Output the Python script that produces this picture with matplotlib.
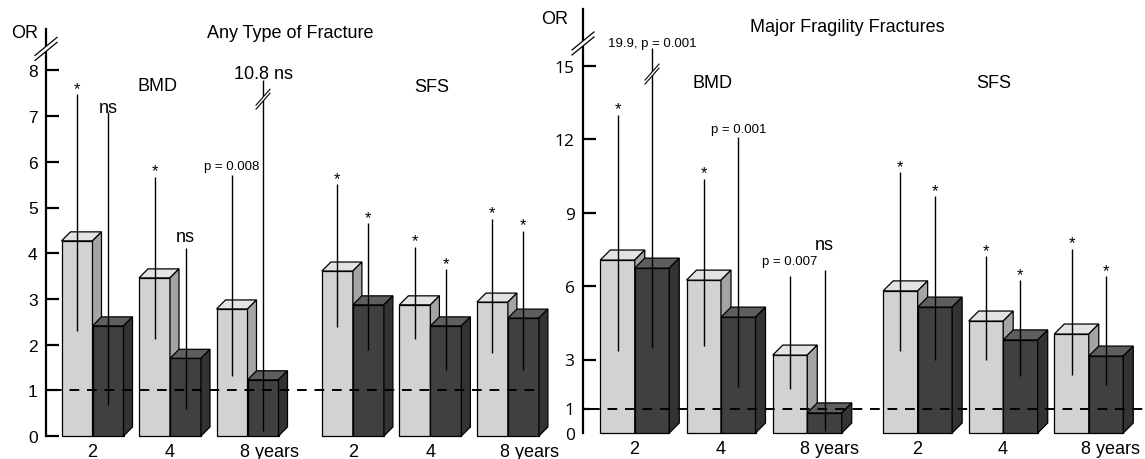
import matplotlib.pyplot as plt
from matplotlib.patches import Polygon

plt.rcParams['font.family'] = ['Liberation Sans', 'DejaVu Sans']

# ---- data (odds ratios) ----
years = ['2', '4', '8 years']

# Any type of fracture
any_bmd_light = [4.27, 3.46, 2.78]
any_bmd_dark = [2.41, 1.70, 1.23]
any_bmd_light_lo = [2.30, 2.12, 1.31]
any_bmd_light_hi = [7.48, 5.67, 5.72]
any_bmd_dark_lo = [0.68, 0.59, 0.11]
any_bmd_dark_hi = [7.09, 4.11, 10.8]
any_bmd_light_sig = ['*', '*', 'p = 0.008']
any_bmd_dark_sig = ['ns', 'ns', '10.8 ns']

any_sfs_light = [3.61, 2.87, 2.93]
any_sfs_dark = [2.87, 2.41, 2.58]
any_sfs_light_lo = [2.38, 2.12, 1.82]
any_sfs_light_hi = [5.51, 4.14, 4.75]
any_sfs_dark_lo = [1.88, 1.44, 1.44]
any_sfs_dark_hi = [4.66, 3.65, 4.49]
any_sfs_light_sig = ['*', '*', '*']
any_sfs_dark_sig = ['*', '*', '*']

# Major fragility fractures
maj_bmd_light = [7.06, 6.24, 3.18]
maj_bmd_dark = [6.73, 4.73, 0.82]
maj_bmd_light_lo = [3.35, 3.55, 1.80]
maj_bmd_light_hi = [13.0, 10.37, 6.40]
maj_bmd_dark_lo = [3.47, 1.88, 0.08]
maj_bmd_dark_hi = [19.9, 12.1, 6.65]
maj_bmd_light_sig = ['*', '*', 'p = 0.007']
maj_bmd_dark_sig = ['19.9, p = 0.001', 'p = 0.001', 'ns']

maj_sfs_light = [5.80, 4.57, 4.04]
maj_sfs_dark = [5.14, 3.80, 3.14]
maj_sfs_light_lo = [3.35, 3.00, 2.37]
maj_sfs_light_hi = [10.65, 7.22, 7.51]
maj_sfs_dark_lo = [2.98, 2.33, 1.96]
maj_sfs_dark_hi = [9.67, 6.24, 6.40]
maj_sfs_light_sig = ['*', '*', '*']
maj_sfs_dark_sig = ['*', '*', '*']

# ---- style ----
LIGHT = ('#d2d2d2', '#e3e3e3', '#a4a4a4')   # front, top, side
DARK = ('#404040', '#5e5e5e', '#333333')
W, H = 1145, 460

fig = plt.figure(figsize=(W / 100, H / 100), dpi=100)


def make_axes(left, zero, top, xmax, ux, uy):
    ax = fig.add_axes([left / W, (H - zero) / H, xmax * ux / W, (zero - top) / H])
    ax.set_xlim(0, xmax)
    ax.set_ylim(0, (zero - top) / uy)
    for s in ['top', 'right', 'bottom']:
        ax.spines[s].set_visible(False)
    ax.spines['left'].set_linewidth(1.6)
    ax.set_xticks([])
    ax.tick_params(axis='y', direction='in', length=9, width=1.6, labelsize=12.5, pad=6)
    ax.patch.set_alpha(0)
    return ax


def bar3d(ax, x, h, cols, dx, dy, z):
    ax.bar(x, h, width=1, align='edge', color=cols[0], edgecolor='black',
           linewidth=0.9, zorder=z, clip_on=False)
    ax.add_patch(Polygon([(x, h), (x + dx, h + dy), (x + 1 + dx, h + dy), (x + 1, h)],
                         closed=True, fc=cols[1], ec='black', lw=0.9, zorder=z, clip_on=False))
    ax.add_patch(Polygon([(x + 1, 0), (x + 1 + dx, dy), (x + 1 + dx, h + dy), (x + 1, h)],
                         closed=True, fc=cols[2], ec='black', lw=0.9, zorder=z, clip_on=False))


def break_marks(ax, x, y, ux, uy, wpx, hpx, gap, lw, clip=True):
    a, b, g = wpx / 2 / ux, hpx / 2 / uy, gap / 2 / uy
    ax.add_patch(Polygon([(x - a, y - b - g), (x + a, y + b - g), (x + a, y + b + g), (x - a, y - b + g)],
                         closed=True, fc='white', ec='none', zorder=30, clip_on=clip))
    for s in (-g, g):
        ax.plot([x - a, x + a], [y - b + s, y + b + s], color='black', lw=lw,
                zorder=31, clip_on=clip)


def draw_panel(ax, groups, ux, uy, depth, cap, brk, lifts):
    dx, dy = depth / ux, depth / uy
    z = 2
    k = 0
    for starts, light, dark, llo, lhi, dlo, dhi, lsig, dsig in groups:
        for i in range(len(years)):
            x0 = starts[i]
            for x, h, cols, lo, hi, sig in [(x0, light[i], LIGHT, llo[i], lhi[i], lsig[i]),
                                            (x0 + 1, dark[i], DARK, dlo[i], dhi[i], dsig[i])]:
                bar3d(ax, x, h, cols, dx, dy, z)
                z += 0.1
                xc = x + 0.5
                top = min(hi, cap)
                ax.vlines(xc, lo, top, color='black', lw=1.0, zorder=20)
                if hi > cap:
                    break_marks(ax, xc, brk, ux, uy, 14, 16, 4, 0.8)
                fs = 12 if sig == '*' else (9.5 if 'p' in sig else 13)
                ax.annotate(sig, (xc, top), xytext=(0, lifts[k]), textcoords='offset points',
                            ha='center', va='baseline', fontsize=fs, zorder=25)
                k += 1
            # year label under the pair
            pc = x0 + 1 + dx / 2
            if i == len(years) - 1:
                ax.annotate(years[i], (pc, 0), xytext=(-9, -5), textcoords='offset points',
                            ha='left', va='top', fontsize=13, annotation_clip=False)
            else:
                ax.annotate(years[i], (pc - 0.15, 0), xytext=(0, -5), textcoords='offset points',
                            ha='center', va='top', fontsize=13, annotation_clip=False)


# ---- left panel: any type of fracture ----
ux1, uy1 = 31, 45.7
ax1 = make_axes(46, 437, 30, 15.95, ux1, uy1)
ax1.set_yticks(range(0, 9))
bmd1 = [0.5 + 2.5 * i for i in range(3)]
sfs1 = [8.9 + 2.5 * i for i in range(3)]
lifts1 = [1, 0, 1, 5, 4, 1, 1, 1, 1, 1, 1, 1]
draw_panel(ax1, [(bmd1, any_bmd_light, any_bmd_dark, any_bmd_light_lo, any_bmd_light_hi,
                  any_bmd_dark_lo, any_bmd_dark_hi, any_bmd_light_sig, any_bmd_dark_sig),
                 (sfs1, any_sfs_light, any_sfs_dark, any_sfs_light_lo, any_sfs_light_hi,
                  any_sfs_dark_lo, any_sfs_dark_hi, any_sfs_light_sig, any_sfs_dark_sig)],
           ux1, uy1, 9, 7.8, 7.37, lifts1)
ax1.plot([0.2, 15.95], [1, 1], color='black', lw=1.4, ls=(0, (5, 4)), zorder=26)
break_marks(ax1, 0, 8.47, ux1, uy1, 22, 18, 5, 0.9, clip=False)
ax1.text(3.6, 7.66, 'BMD', ha='center', va='center', fontsize=13)
ax1.text(12.45, 7.64, 'SFS', ha='center', va='center', fontsize=13)

# ---- right panel: major fragility fractures ----
ux2, uy2 = 34.5, 24.5
ax2 = make_axes(583, 434, 10, 16.3, ux2, uy2)
ax2.set_yticks([0, 1, 3, 6, 9, 12, 15])
ax2.yaxis.get_major_ticks()[0].tick1line.set_visible(False)
ax2.yaxis.get_major_ticks()[1].tick1line.set_markersize(5)
for t in ax2.get_yticklabels():
    t.set_fontfamily(['Open Sans', 'DejaVu Sans'])
bmd2 = [0.5 + 2.5 * i for i in range(3)]
sfs2 = [8.7 + 2.48 * i for i in range(3)]
lifts2 = [1, 2, 1, 3, 9, 15, 1, 1, 1, 1, 1, 1]
draw_panel(ax2, [(bmd2, maj_bmd_light, maj_bmd_dark, maj_bmd_light_lo, maj_bmd_light_hi,
                  maj_bmd_dark_lo, maj_bmd_dark_hi, maj_bmd_light_sig, maj_bmd_dark_sig),
                 (sfs2, maj_sfs_light, maj_sfs_dark, maj_sfs_light_lo, maj_sfs_light_hi,
                  maj_sfs_dark_lo, maj_sfs_dark_hi, maj_sfs_light_sig, maj_sfs_dark_sig)],
           ux2, uy2, 10, 15.7, 14.65, lifts2)
ax2.plot([0.2, 16.3], [1, 1], color='black', lw=1.4, ls=(0, (5, 4)), zorder=26)
break_marks(ax2, 0, 15.9, ux2, uy2, 22, 18, 5, 0.9, clip=False)
ax2.text(3.74, 14.3, 'BMD', ha='center', va='center', fontsize=13)
ax2.text(11.9, 14.3, 'SFS', ha='center', va='center', fontsize=13)

# titles and axis names
fig.text(290 / W, 1 - 33 / H, 'Any Type of Fracture', ha='center', va='center', fontsize=13)
fig.text(847 / W, 1 - 27 / H, 'Major Fragility Fractures', ha='center', va='center', fontsize=13)
fig.text(25 / W, 1 - 33 / H, 'OR', ha='center', va='center', fontsize=13)
fig.text(555 / W, 1 - 20 / H, 'OR', ha='center', va='center', fontsize=13)

fig.savefig('out.png', dpi=100)
